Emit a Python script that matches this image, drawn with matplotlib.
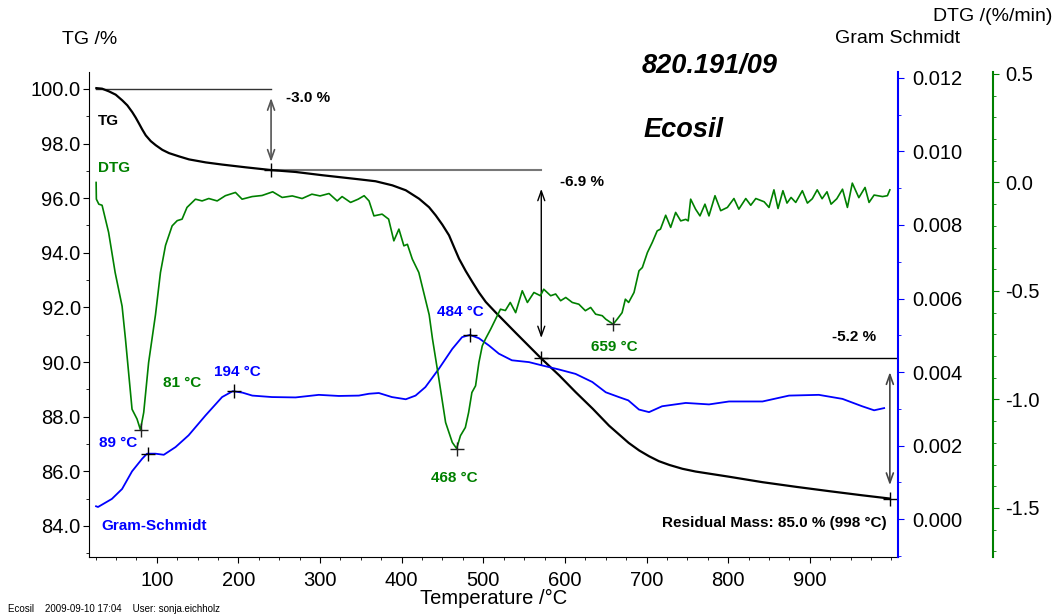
import matplotlib
matplotlib.use("Agg")
import matplotlib.pyplot as plt
from matplotlib.ticker import MultipleLocator, FormatStrFormatter

plt.rcParams['font.family'] = ['Liberation Sans', 'DejaVu Sans']

# TG curve (temperature in deg C, mass in %)
tg_temp = [26, 33, 41.5, 49.7, 57.8, 63.9, 70, 74.2, 78.3, 82.3, 86.5, 92.6, 98.7, 106.8, 115,
           127.3, 139.5, 160, 180.3, 209, 240, 270, 303, 348, 368, 388.6, 405, 421.3, 433.5,
           441.7, 449.8, 458, 464.1, 470.3, 478.5, 486.6, 494.8, 503, 515, 540, 571, 593,
           613, 634, 654, 678, 691, 703, 715, 728, 744, 760, 801, 842, 883, 924, 964, 998]
tg_mass = [100.03, 100.01, 99.91, 99.79, 99.58, 99.40, 99.15, 98.95, 98.73, 98.51, 98.30,
           98.09, 97.94, 97.77, 97.65, 97.53, 97.42, 97.31, 97.23, 97.13, 97.03, 96.96, 96.84,
           96.69, 96.62, 96.47, 96.29, 95.98, 95.67, 95.37, 95.03, 94.64, 94.21, 93.78, 93.33,
           92.93, 92.54, 92.20, 91.82, 91.06, 90.13, 89.51, 88.90, 88.29, 87.67, 87.04, 86.76,
           86.55, 86.37, 86.23, 86.09, 85.99, 85.80, 85.60, 85.43, 85.27, 85.12, 85.00]

# DTG curve (%/min)
dtg_temp = [25.7, 26, 29, 33, 41, 49, 57.5, 61.6, 69.7, 75.8, 80, 84, 90, 98.4, 104.5, 110.7,
            118.8, 125, 131, 137, 147.4, 155.5, 163.7, 174, 184, 196.4, 204.5, 216.8, 229, 242,
            253.6, 266, 278, 290, 300, 311, 321, 327, 337.4, 346.7, 354, 360, 366, 376, 384,
            390.4, 396.6, 402.7, 407, 413, 421, 427, 433.7, 437.7, 445.6, 453.8, 462, 467.3,
            472, 478, 482, 486, 490.5, 494.6, 498.7, 502.8, 509, 515, 521, 527, 533, 539.6,
            547.7, 554, 562, 570, 574, 582.5, 588.6, 594.7, 601, 609, 617, 625, 631.5, 637.6,
            645.7, 650, 659, 664, 670, 674, 678, 684.6, 690.7, 694.8, 701, 707, 713, 717, 723.4,
            729.5, 735.6, 741.8, 748, 751, 754, 760, 765.4, 771.5, 776.4, 783.8, 790.8, 799, 807,
            813, 821.5, 827.6, 833.8, 844, 850, 856, 861, 867, 872, 877, 882.7, 890.8, 897, 903,
            909, 915, 921, 926, 933, 940, 946, 952, 960, 967.6, 972.5, 978.7, 989, 995, 998]
dtg_val = [0.0, -0.077, -0.10, -0.105, -0.23, -0.415, -0.57, -0.72, -1.045, -1.09, -1.14,
           -1.06, -0.83, -0.61, -0.415, -0.29, -0.20, -0.176, -0.169, -0.115, -0.077, -0.085,
           -0.074, -0.085, -0.061, -0.046, -0.077, -0.065, -0.060, -0.043, -0.069, -0.062,
           -0.074, -0.054, -0.062, -0.051, -0.085, -0.065, -0.092, -0.077, -0.061, -0.085,
           -0.154, -0.146, -0.169, -0.269, -0.215, -0.292, -0.285, -0.353, -0.415, -0.507,
           -0.61, -0.72, -0.906, -1.106, -1.198, -1.226, -1.167, -1.129, -1.06, -0.968,
           -0.937, -0.83, -0.753, -0.72, -0.676, -0.63, -0.584, -0.59, -0.553, -0.60, -0.499,
           -0.553, -0.507, -0.522, -0.492, -0.522, -0.514, -0.545, -0.530, -0.553, -0.561,
           -0.591, -0.576, -0.607, -0.614, -0.63, -0.653, -0.63, -0.60, -0.538, -0.553,
           -0.507, -0.407, -0.392, -0.323, -0.276, -0.223, -0.215, -0.151, -0.207, -0.138,
           -0.177, -0.170, -0.177, -0.077, -0.123, -0.154, -0.10, -0.154, -0.061, -0.130,
           -0.115, -0.074, -0.123, -0.074, -0.105, -0.074, -0.089, -0.115, -0.034, -0.120,
           -0.038, -0.095, -0.069, -0.092, -0.038, -0.095, -0.075, -0.034, -0.075, -0.043,
           -0.10, -0.075, -0.031, -0.115, -0.003, -0.07, -0.023, -0.092, -0.058, -0.065,
           -0.061, -0.034]

# Gram-Schmidt curve
gs_temp = [25.6, 28, 45, 57.5, 69.7, 82, 88, 98.4, 108.6, 123, 139, 159.7, 180, 193, 205,
           217, 241, 270, 298.5, 323, 347.5, 360, 372, 388, 405, 417, 429, 445.6, 462, 474,
           483.6, 494.6, 507, 519, 535, 556, 572, 592.6, 613, 633.5, 650, 666, 677.6, 690.7,
           703, 719, 748, 776.5, 801, 842, 874.5, 911, 940, 964, 978.7, 991]
gs_val = [0.00035, 0.00033, 0.00055, 0.00082, 0.0013, 0.00164, 0.00178, 0.00178, 0.00175,
          0.00196, 0.00228, 0.00282, 0.00332, 0.00348, 0.00344, 0.00336, 0.00332, 0.00331,
          0.00338, 0.00335, 0.00336, 0.00341, 0.00343, 0.00332, 0.00326, 0.00336, 0.00359,
          0.00409, 0.00463, 0.00495, 0.00501, 0.00492, 0.00472, 0.0045, 0.00432, 0.00427,
          0.00418, 0.00407, 0.00395, 0.00373, 0.00345, 0.00332, 0.00323, 0.00298, 0.00291,
          0.00307, 0.00316, 0.00312, 0.0032, 0.0032, 0.00336, 0.00338, 0.00327, 0.00307,
          0.00296, 0.00302]

# evaluated points
tg_steps_temp = [240, 571, 998]
tg_steps_mass = [97.03, 90.13, 85.0]
dtg_peak_temp = [81, 468, 659]
dtg_peak_val = [-1.143, -1.226, -0.654]
gs_peak_temp = [89, 194, 484]
gs_peak_val = [0.00177, 0.00348, 0.0050]

GREEN = '#008000'
BLUE = '#0000ff'

fig = plt.figure(figsize=(10.56, 6.15), dpi=100)
ax = fig.add_axes([0.0843, 0.0943, 0.7661, 0.7886])
ax_gs = ax.twinx()
ax_dtg = ax.twinx()

# --- TG (left axis)
ax.plot(tg_temp, tg_mass, color='black', lw=1.6, zorder=5)
ax.set_xlim(17, 1008)
ax.set_ylim(82.86, 100.62)
ax.yaxis.set_major_locator(MultipleLocator(2))
ax.yaxis.set_minor_locator(MultipleLocator(1))
ax.yaxis.set_major_formatter(FormatStrFormatter('%.1f'))
ax.set_xticks(range(100, 1000, 100))
ax.xaxis.set_minor_locator(MultipleLocator(25))
ax.spines['top'].set_visible(False)
ax.spines['right'].set_visible(False)
ax.tick_params(axis='y', which='major', length=4, pad=2, labelsize=14.5)
ax.tick_params(axis='y', which='minor', length=2.5)
ax.tick_params(axis='x', which='major', length=4, pad=6, labelsize=14.5)
ax.tick_params(axis='x', which='minor', length=2.5)
ax.set_xlabel('Temperature /°C', fontsize=14.5, labelpad=-1)

# --- Gram-Schmidt (first right axis)
ax_gs.plot(gs_temp, gs_val, color=BLUE, lw=1.3)
ax_gs.set_ylim(-0.00103, 0.01216)
ax_gs.yaxis.set_major_locator(MultipleLocator(0.002))
ax_gs.yaxis.set_minor_locator(MultipleLocator(0.001))
ax_gs.yaxis.set_major_formatter(FormatStrFormatter('%.3f'))
for s in ['top', 'left', 'bottom']:
    ax_gs.spines[s].set_visible(False)
ax_gs.spines['right'].set_color(BLUE)
ax_gs.spines['right'].set_linewidth(1.5)
ax_gs.tick_params(axis='y', which='major', colors=BLUE, labelcolor='black', length=4, pad=6, labelsize=14.5)
ax_gs.tick_params(axis='y', which='minor', colors=BLUE, length=2.5)

# --- DTG (second right axis, offset)
ax_dtg.plot(dtg_temp, dtg_val, color=GREEN, lw=1.2)
ax_dtg.set_ylim(-1.726, 0.509)
ax_dtg.spines['right'].set_position(('axes', 1.1174))
for s in ['top', 'left', 'bottom']:
    ax_dtg.spines[s].set_visible(False)
ax_dtg.spines['right'].set_color(GREEN)
ax_dtg.spines['right'].set_linewidth(1.5)
ax_dtg.yaxis.set_major_locator(MultipleLocator(0.5))
ax_dtg.yaxis.set_minor_locator(MultipleLocator(0.1))
ax_dtg.yaxis.set_major_formatter(FormatStrFormatter('%.1f'))
ax_dtg.tick_params(axis='y', which='major', colors=GREEN, labelcolor='black', length=4, pad=5, labelsize=14.5)
ax_dtg.tick_params(axis='y', which='minor', colors=GREEN, length=2.5)

# markers
ax.plot(tg_steps_temp, tg_steps_mass, '+', color='black', ms=10, mew=1, zorder=6)
ax_dtg.plot(dtg_peak_temp, dtg_peak_val, '+', color='#222222', ms=10, mew=1)
ax_gs.plot(gs_peak_temp, gs_peak_val, '+', color='black', ms=10, mew=1)

# step evaluation lines and arrows
ax.plot([tg_temp[0], tg_steps_temp[0]], [100.0, 100.0], color='#333333', lw=1)
ax.plot([tg_steps_temp[0], tg_steps_temp[1]], [tg_steps_mass[0], tg_steps_mass[0]], color='#777777', lw=1.5)
ax.plot([tg_steps_temp[1], 1008], [tg_steps_mass[1], tg_steps_mass[1]], color='black', lw=1)
arr = '<->,head_length=0.7,head_width=0.25'
ax.annotate('', xy=(240, 97.33), xytext=(240, 99.67),
            arrowprops=dict(arrowstyle=arr, color='#555555', lw=1.2, shrinkA=0, shrinkB=0))
ax.annotate('', xy=(571, 90.88), xytext=(571, 96.34),
            arrowprops=dict(arrowstyle=arr, color='black', lw=1, shrinkA=0, shrinkB=0))
ax.annotate('', xy=(998, 85.49), xytext=(998, 89.63),
            arrowprops=dict(arrowstyle=arr, color='#444444', lw=1.2, shrinkA=0, shrinkB=0))

bold = dict(fontsize=11, fontweight='bold', va='center')
ax.text(28, 98.83, 'TG', color='black', **bold)
ax.text(28, 97.10, 'DTG', color=GREEN, **bold)
ax.text(258, 99.67, '-3.0 %', color='black', **bold)
ax.text(594, 96.59, '-6.9 %', color='black', **bold)
ax.text(927, 90.91, '-5.2 %', color='black', **bold)
ax.text(994.6, 84.10, 'Residual Mass: 85.0 % (998 °C)', color='black', ha='right', **bold)
ax.text(29.3, 87.03, '89 °C', color=BLUE, **bold)
ax.text(107.7, 89.23, '81 °C', color=GREEN, **bold)
ax.text(170, 89.63, '194 °C', color=BLUE, **bold)
ax.text(31.7, 83.99, 'Gram-Schmidt', color=BLUE, **bold)
ax.text(436, 85.75, '468 °C', color=GREEN, **bold)
ax.text(443.3, 91.83, '484 °C', color=BLUE, **bold)
ax.text(632, 90.55, '659 °C', color=GREEN, **bold)

# header texts
fig.text(0.0587, 0.935, 'TG /%', fontsize=14, va='center')
fig.text(0.9091, 0.9382, 'Gram Schmidt', fontsize=14, va='center', ha='right')
fig.text(0.9962, 0.9724, 'DTG /(%/min)', fontsize=14, va='center', ha='right')
fig.text(0.608, 0.8927, '820.191/09', fontsize=19.5, fontweight='bold', style='italic', va='center')
fig.text(0.609, 0.7894, 'Ecosil', fontsize=19.5, fontweight='bold', style='italic', va='center')
fig.text(0.0076, 0.0098, 'Ecosil    2009-09-10 17:04    User: sonja.eichholz', fontsize=7, va='center')

fig.savefig('out.png', dpi=100)
